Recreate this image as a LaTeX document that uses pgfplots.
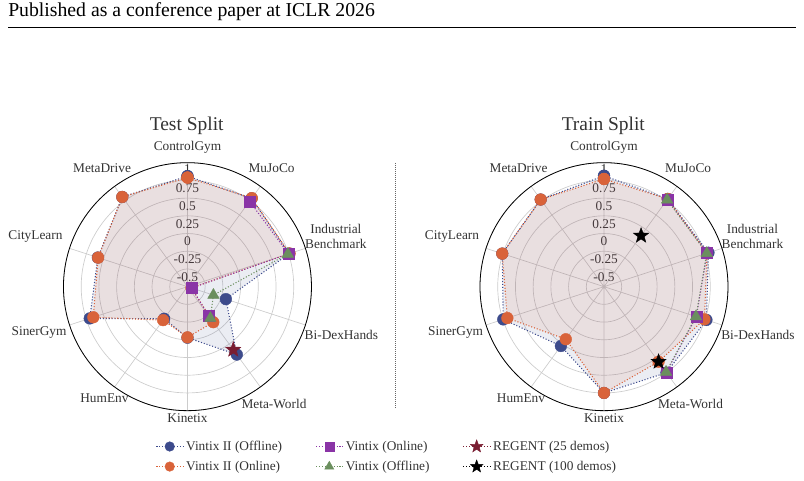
\documentclass[border=0pt]{standalone}
\usepackage{pgfplots}
\pgfplotsset{compat=1.18}
\usepgfplotslibrary{polar}
\usepackage{pgfplotstable}
\usepackage{fontspec}
\setmainfont{Liberation Serif}
\definecolor{cblue}{HTML}{3D4B8C}
\definecolor{corange}{HTML}{D9633A}
\definecolor{cpurple}{HTML}{8A34A6}
\definecolor{cgreen}{HTML}{6B8F5E}
\definecolor{cred}{HTML}{7A1E32}
\definecolor{labgray}{HTML}{333333}

\pgfdeclareplotmark{fstar}{%
\pgfpathmoveto{\pgfpointpolar{90}{\pgfplotmarksize}}%
\pgfpathlineto{\pgfpointpolar{126}{0.42\pgfplotmarksize}}%
\pgfpathlineto{\pgfpointpolar{162}{\pgfplotmarksize}}%
\pgfpathlineto{\pgfpointpolar{198}{0.42\pgfplotmarksize}}%
\pgfpathlineto{\pgfpointpolar{234}{\pgfplotmarksize}}%
\pgfpathlineto{\pgfpointpolar{270}{0.42\pgfplotmarksize}}%
\pgfpathlineto{\pgfpointpolar{306}{\pgfplotmarksize}}%
\pgfpathlineto{\pgfpointpolar{342}{0.42\pgfplotmarksize}}%
\pgfpathlineto{\pgfpointpolar{18}{\pgfplotmarksize}}%
\pgfpathlineto{\pgfpointpolar{54}{0.42\pgfplotmarksize}}%
\pgfpathclose\pgfusepathqfillstroke}

% angle: ControlGym 90, MetaDrive 126, CityLearn 162, SinerGym 198, HumEnv 234,
% Kinetix 270, Meta-World 306, Bi-DexHands 342, Industrial Benchmark 378, MuJoCo 414
\pgfplotstableread{
a r
90 0.81
126 0.815
162 0.58
198 0.70
234 -0.19
270 -0.03
306 0.435
342 -0.18
378 0.76
414 0.79
450 0.81
}\testblue
\pgfplotstableread{
a r
90 0.79
126 0.815
162 0.576
198 0.647
234 -0.166
270 -0.035
306 -0.13
342 -0.69
378 0.765
414 0.795
450 0.79
}\testorange
\pgfplotstableread{
a r
414 0.74
378 0.75
342 -0.69
306 -0.24
}\testpurple
\pgfplotstableread{
a r
378 0.74
342 -0.365
306 -0.20
}\testgreen
\pgfplotstableread{
a r
306 0.35
}\testred
\pgfplotstableread{
a r
90 0.815
126 0.77
162 0.76
198 0.745
234 0.285
270 0.75
306 0.75
342 0.77
378 0.80
414 0.78
450 0.815
}\trainblue
\pgfplotstableread{
a r
90 0.77
126 0.77
162 0.76
198 0.684
234 0.167
270 0.75
306 0.56
342 0.74
378 0.78
414 0.78
450 0.77
}\trainorange
\pgfplotstableread{
a r
414 0.77
378 0.78
342 0.62
306 0.745
}\trainpurple
\pgfplotstableread{
a r
414 0.765
378 0.775
342 0.615
306 0.74
}\traingreen
\pgfplotstableread{
a r
414 0.14
306 0.56
}\trainblack

\tikzset{rlab/.style={font=\fontsize{10}{11}\selectfont, text=labgray, inner sep=0pt, anchor=center},
         clab/.style={font=\fontsize{10}{11.5}\selectfont, text=labgray, inner sep=0pt, anchor=center, align=center}}

\pgfplotsset{
 radar/.style={
   scale only axis, width=186pt, height=186pt,
   xmin=90, xmax=450, ymin=0, ymax=1.75,
   xtick={90,126,162,198,234,270,306,342,378,414},
   xticklabels={},
   ytick={0.25,0.5,0.75,1,1.25,1.5,1.75}, yticklabels={},
   grid=major, major grid style={black!20, line width=0.5pt},
   major tick length=0pt,
   axis line style={black, line width=0.6pt},
   y axis line style={draw=none},
   clip=false,
 },
 ser/.style={line width=0.8pt, dash pattern=on 0.8pt off 1.4pt},
 sblue/.style={ser, cblue, mark=*, mark size=4.4pt, mark options={solid, fill=cblue, draw=cblue, line width=0.3pt}},
 sorange/.style={ser, corange, mark=*, mark size=4.4pt, mark options={solid, fill=corange, draw=corange, line width=0.3pt}},
 spurple/.style={ser, cpurple, mark=square*, mark size=4.1pt, mark options={solid, fill=cpurple, draw=cpurple, line width=0.3pt}},
 sgreen/.style={ser, cgreen, mark=triangle*, mark size=5pt, mark options={solid, fill=cgreen, draw=cgreen, line width=0.3pt}},
 sred/.style={ser, cred, mark=fstar, mark size=6pt, mark options={solid, fill=cred, draw=cred, line width=0.3pt}},
 sblack/.style={ser, black, mark=fstar, mark size=6pt, mark options={solid, fill=black, draw=black, line width=0.3pt}},
}

\newcommand{\rlabels}{%
 \node[rlab, yshift=-5pt] at (axis cs:90,1.75) {1};
 \node[rlab, yshift=-6pt] at (axis cs:90,1.5) {0.75};
 \node[rlab, yshift=-6pt] at (axis cs:90,1.25) {0.5};
 \node[rlab, yshift=-6pt] at (axis cs:90,1.0) {0.25};
 \node[rlab, yshift=-6pt] at (axis cs:90,0.75) {0};
 \node[rlab, yshift=-6pt] at (axis cs:90,0.5) {-0.25};
 \node[rlab, yshift=-6pt] at (axis cs:90,0.25) {-0.5};
 \node[clab] at (axis cs:90,1.968) {ControlGym};
 \node[clab] at (axis cs:414.6,2.05) {MuJoCo};
 \node[clab] at (axis cs:378.8,2.213) {Industrial\\Benchmark};
 \node[clab] at (axis cs:342.5,2.278) {Bi-DexHands};
 \node[clab] at (axis cs:306.4,2.058) {Meta-World};
 \node[clab] at (axis cs:270,1.855) {Kinetix};
 \node[clab] at (axis cs:233.3,1.961) {HumEnv};
 \node[clab] at (axis cs:197.3,2.193) {SinerGym};
 \node[clab] at (axis cs:161.9,2.257) {CityLearn};
 \node[clab] at (axis cs:125.8,2.061) {MetaDrive};
}

\begin{document}
\begin{tikzpicture}
\path[use as bounding box] (0,0) rectangle (603pt,-360.75pt);
\node[anchor=base west, font=\fontsize{14.8}{16}\selectfont, inner sep=0pt] at (6pt,-12.75pt) {Published as a conference paper at ICLR 2026};
\draw[line width=0.6pt] (6pt,-20.25pt) -- (597pt,-20.25pt);
\draw[black!60, line width=0.5pt, dash pattern=on 0.75pt off 0.75pt] (296.25pt,-122.25pt) -- (296.25pt,-306pt);
\node[anchor=base, font=\fontsize{14.6}{16}\selectfont, text=labgray, inner sep=0pt] at (140pt,-97.9pt) {Test Split};
\node[anchor=base, font=\fontsize{14.6}{16}\selectfont, text=labgray, inner sep=0pt] at (452.5pt,-97.9pt) {Train Split};

\begin{polaraxis}[radar, at={(140.6pt,-215pt)}, anchor=center]
\rlabels
\addplot[draw=none, fill=cblue, fill opacity=0.1] table[x=a, y expr=\thisrow{r}+0.75] {\testblue};
\addplot[draw=none, fill=corange, fill opacity=0.1] table[x=a, y expr=\thisrow{r}+0.75] {\testorange};
\addplot[sblue] table[x=a, y expr=\thisrow{r}+0.75] {\testblue};
\addplot[sorange] table[x=a, y expr=\thisrow{r}+0.75] {\testorange};
\addplot[spurple] table[x=a, y expr=\thisrow{r}+0.75] {\testpurple};
\addplot[sgreen] table[x=a, y expr=\thisrow{r}+0.75] {\testgreen};
\addplot[sred] table[x=a, y expr=\thisrow{r}+0.75] {\testred};
\end{polaraxis}

\begin{polaraxis}[radar, at={(453pt,-215pt)}, anchor=center]
\rlabels
\addplot[draw=none, fill=cblue, fill opacity=0.1] table[x=a, y expr=\thisrow{r}+0.75] {\trainblue};
\addplot[draw=none, fill=corange, fill opacity=0.1] table[x=a, y expr=\thisrow{r}+0.75] {\trainorange};
\addplot[sblue] table[x=a, y expr=\thisrow{r}+0.75] {\trainblue};
\addplot[sorange] table[x=a, y expr=\thisrow{r}+0.75] {\trainorange};
\addplot[spurple] table[x=a, y expr=\thisrow{r}+0.75] {\trainpurple};
\addplot[sgreen] table[x=a, y expr=\thisrow{r}+0.75] {\traingreen};
\addplot[sblack, only marks] table[x=a, y expr=\thisrow{r}+0.75] {\trainblack};
\end{polaraxis}

\begin{axis}[hide axis, scale only axis, width=10pt, height=10pt, xmin=0, xmax=1, ymin=0, ymax=1,
  at={(290.5pt,-342.4pt)}, anchor=center,
  legend columns=3, legend cell align=left,
  legend style={at={(0.5,0.5)}, anchor=center, draw=none, fill=none, font=\fontsize{10}{12}\selectfont, text=labgray,
    /tikz/every even column/.append style={column sep=23pt}, row sep=2.5pt},
  legend image code/.code={\draw[mark repeat=2,mark phase=2] plot coordinates {(0cm,0cm)(0.35cm,0cm)(0.7cm,0cm)};}]
\addlegendimage{sblue, mark size=3.6pt}\addlegendentry{Vintix II (Offline)}
\addlegendimage{spurple, mark size=3.4pt}\addlegendentry{Vintix (Online)}
\addlegendimage{sred, mark size=5pt}\addlegendentry{REGENT (25 demos)}
\addlegendimage{sorange, mark size=3.6pt}\addlegendentry{Vintix II (Online)}
\addlegendimage{sgreen, mark size=4pt}\addlegendentry{Vintix (Offline)}
\addlegendimage{sblack, mark size=5pt}\addlegendentry{REGENT (100 demos)}
\end{axis}
\end{tikzpicture}
\end{document}
